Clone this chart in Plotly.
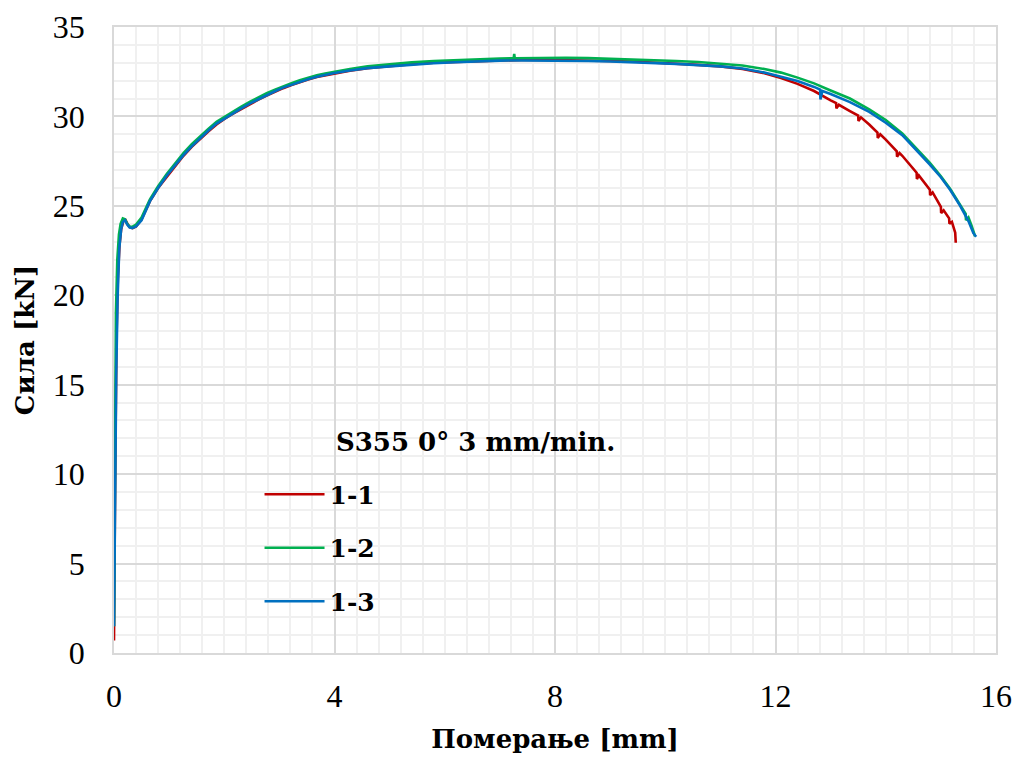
import plotly.graph_objects as go

# Force–displacement curves, S355 0°, 3 mm/min
x_11 = [0, 0.005, 0.02, 0.045, 0.07, 0.1, 0.13, 0.17, 0.21, 0.25, 0.29, 0.34, 0.4, 0.5, 0.65, 0.8,
        0.96, 1.1, 1.26, 1.41, 1.56, 1.71, 1.86, 2.01, 2.16, 2.31, 2.47, 2.62, 2.77, 2.92, 3.07,
        3.22, 3.37, 3.52, 3.68, 3.83, 3.98, 4.28, 4.6, 5.0, 5.4, 5.8, 6.2, 6.6, 7.0, 7.4, 7.8,
        8.2, 8.6, 9.0, 9.4, 9.8, 10.2, 10.6, 11.0, 11.4, 11.8, 12.1, 12.4, 12.7, 13.0,
        13.1, 13.105, 13.15, 13.35, 13.5, 13.505, 13.55, 13.7, 13.85, 13.855, 13.9, 14.0,
        14.2, 14.205, 14.25, 14.3, 14.56, 14.565, 14.6, 14.8, 14.805, 14.85, 15.0,
        15.005, 15.05, 15.15, 15.155, 15.2, 15.23, 15.26, 15.27]
y_11 = [0.7, 3.5, 9.5, 17.5, 21.0, 22.8, 23.7, 24.15, 24.2, 23.95, 23.8, 23.75, 23.85, 24.25, 25.25,
        26.0, 26.65, 27.2, 27.8, 28.3, 28.75, 29.15, 29.55, 29.88, 30.15, 30.42, 30.7, 30.94, 31.17,
        31.38, 31.58, 31.75, 31.92, 32.06, 32.2, 32.3, 32.4, 32.56, 32.7, 32.82, 32.92, 33.0, 33.05,
        33.1, 33.14, 33.16, 33.16, 33.15, 33.13, 33.1, 33.07, 33.02, 32.96, 32.88, 32.8, 32.65,
        32.42, 32.15, 31.82, 31.42, 30.9,
        30.75, 30.45, 30.65, 30.3, 30.05, 29.75, 29.95, 29.55, 29.1, 28.8, 29.0, 28.7,
        28.05, 27.75, 27.95, 27.8, 26.85, 26.5, 26.7, 25.9, 25.6, 25.75, 24.95,
        24.6, 24.75, 24.3, 24.0, 24.1, 23.8, 23.5, 22.94]

x_12 = [0, 0.005, 0.015, 0.035, 0.06, 0.09, 0.12, 0.16, 0.2, 0.24, 0.28, 0.33, 0.4, 0.5, 0.65,
        0.8, 0.96, 1.1, 1.26, 1.41, 1.56, 1.71, 1.86, 2.01, 2.16, 2.31, 2.47, 2.62, 2.77, 2.92,
        3.07, 3.22, 3.37, 3.52, 3.68, 3.83, 3.98, 4.28, 4.6, 5.0, 5.4, 5.8, 6.2, 6.6, 7.0, 7.25,
        7.26, 7.27, 7.4, 7.8, 8.2, 8.6, 9.0, 9.4, 9.8, 10.2, 10.6, 11.0, 11.4, 11.8, 12.1, 12.4,
        12.7, 13.0, 13.35, 13.7, 14.0, 14.3, 14.56, 14.8, 15.0, 15.17, 15.35, 15.45, 15.455,
        15.5, 15.55, 15.6, 15.62]
y_12 = [1.5, 5.0, 11.5, 19.0, 22.0, 23.4, 24.0, 24.3, 24.25, 24.0, 23.85, 23.82, 23.95, 24.35,
        25.35, 26.1, 26.8, 27.35, 27.95, 28.45, 28.9, 29.3, 29.7, 30.0, 30.27, 30.55, 30.82, 31.07,
        31.3, 31.5, 31.7, 31.86, 32.02, 32.16, 32.3, 32.4, 32.49, 32.65, 32.8, 32.93, 33.02, 33.1,
        33.16, 33.21, 33.24, 33.25, 33.5, 33.25, 33.26, 33.28, 33.28, 33.26, 33.23, 33.2, 33.16,
        33.1, 33.04, 32.96, 32.85, 32.65, 32.45, 32.17, 31.85, 31.45, 31.0, 30.4, 29.8, 29.05,
        28.2, 27.4, 26.65, 25.95, 25.05, 24.55, 24.2, 24.35, 23.95, 23.5, 23.3]

x_13 = [0, 0.005, 0.02, 0.04, 0.065, 0.095, 0.13, 0.16, 0.2, 0.24, 0.28, 0.33, 0.4, 0.5, 0.65,
        0.8, 0.96, 1.1, 1.26, 1.41, 1.56, 1.71, 1.86, 2.01, 2.16, 2.31, 2.47, 2.62, 2.77, 2.92,
        3.07, 3.22, 3.37, 3.52, 3.68, 3.83, 3.98, 4.28, 4.6, 5.0, 5.4, 5.8, 6.2, 6.6, 7.0, 7.4,
        7.8, 8.2, 8.6, 9.0, 9.4, 9.8, 10.2, 10.6, 11.0, 11.4, 11.8, 12.1, 12.4, 12.7, 12.81,
        12.815, 12.85, 13.0, 13.35, 13.7, 14.0, 14.3, 14.56, 14.8, 15.0, 15.17, 15.35, 15.5,
        15.59, 15.64]
y_13 = [1.5, 4.0, 10.0, 15.5, 19.8, 22.6, 23.7, 24.1, 24.2, 23.95, 23.8, 23.75, 23.85, 24.2,
        25.25, 26.0, 26.7, 27.25, 27.84, 28.33, 28.78, 29.2, 29.6, 29.9, 30.17, 30.45, 30.73,
        30.97, 31.2, 31.41, 31.61, 31.78, 31.94, 32.08, 32.22, 32.32, 32.41, 32.57, 32.7, 32.8,
        32.9, 32.97, 33.03, 33.08, 33.12, 33.13, 33.13, 33.12, 33.1, 33.07, 33.04, 33.0, 32.94,
        32.87, 32.8, 32.68, 32.45, 32.22, 31.98, 31.65, 31.5, 30.95, 31.42, 31.25, 30.8, 30.25,
        29.65, 28.95, 28.12, 27.3, 26.6, 25.89, 25.0, 24.15, 23.47, 23.27]

series_names = ["1-1", "1-2", "1-3"]
series_colors = ["#C00000", "#00B050", "#0070C0"]

TICK_FONT = "Liberation Serif"
BOLD_FONT = "DejaVu Serif"

fig = go.Figure()
for i, (xs, ys) in enumerate([(x_11, y_11), (x_12, y_12), (x_13, y_13)]):
    fig.add_trace(go.Scatter(
        x=xs, y=ys, mode="lines", name="<b>" + series_names[i] + "</b>",
        legendgroup=series_names[i],
        line=dict(color=series_colors[i], width=2.6),
    ))

axis_common = dict(
    showline=True, linecolor="#D9D9D9", linewidth=1.5, mirror=True,
    showgrid=True, gridcolor="#D9D9D9", gridwidth=1.5,
    zeroline=False, ticks="", automargin=False,
    tickfont=dict(family=TICK_FONT, size=32, color="#000000"),
)

fig.update_layout(
    width=1016, height=757,
    margin=dict(l=114, r=20, t=27, b=104),
    paper_bgcolor="white", plot_bgcolor="white",
    font=dict(family=TICK_FONT, color="#000000"),
    xaxis=dict(range=[0, 16], dtick=4, tick0=0, ticklabelstandoff=14,
               minor=dict(dtick=0.4, showgrid=True, gridcolor="#F0F0F0", gridwidth=1.5),
               title=dict(text="<b>Померање [mm]</b>", font=dict(family=BOLD_FONT, size=26),
                          standoff=17),
               **axis_common),
    yaxis=dict(range=[0, 35], dtick=5, tick0=0, ticklabelstandoff=21,
               minor=dict(dtick=1, showgrid=True, gridcolor="#F0F0F0", gridwidth=1.5),
               title=dict(text="<b>Сила [kN]</b>", font=dict(family=BOLD_FONT, size=26),
                          standoff=11),
               **axis_common),
    showlegend=True,
    legend=dict(
        x=0.165, y=0.29, xanchor="left", yanchor="top",
        bgcolor="rgba(0,0,0,0)", tracegroupgap=18, traceorder="grouped",
        font=dict(family=BOLD_FONT, size=25, color="#000000"),
        itemwidth=60,
    ),
    annotations=[dict(
        text="<b>S355 0° 3 mm/min.</b>", xref="paper", yref="paper",
        x=0.249, y=0.31, xanchor="left", yanchor="bottom", showarrow=False,
        font=dict(family=BOLD_FONT, size=26, color="#000000"),
    )],
)

fig.write_html("out.html")
